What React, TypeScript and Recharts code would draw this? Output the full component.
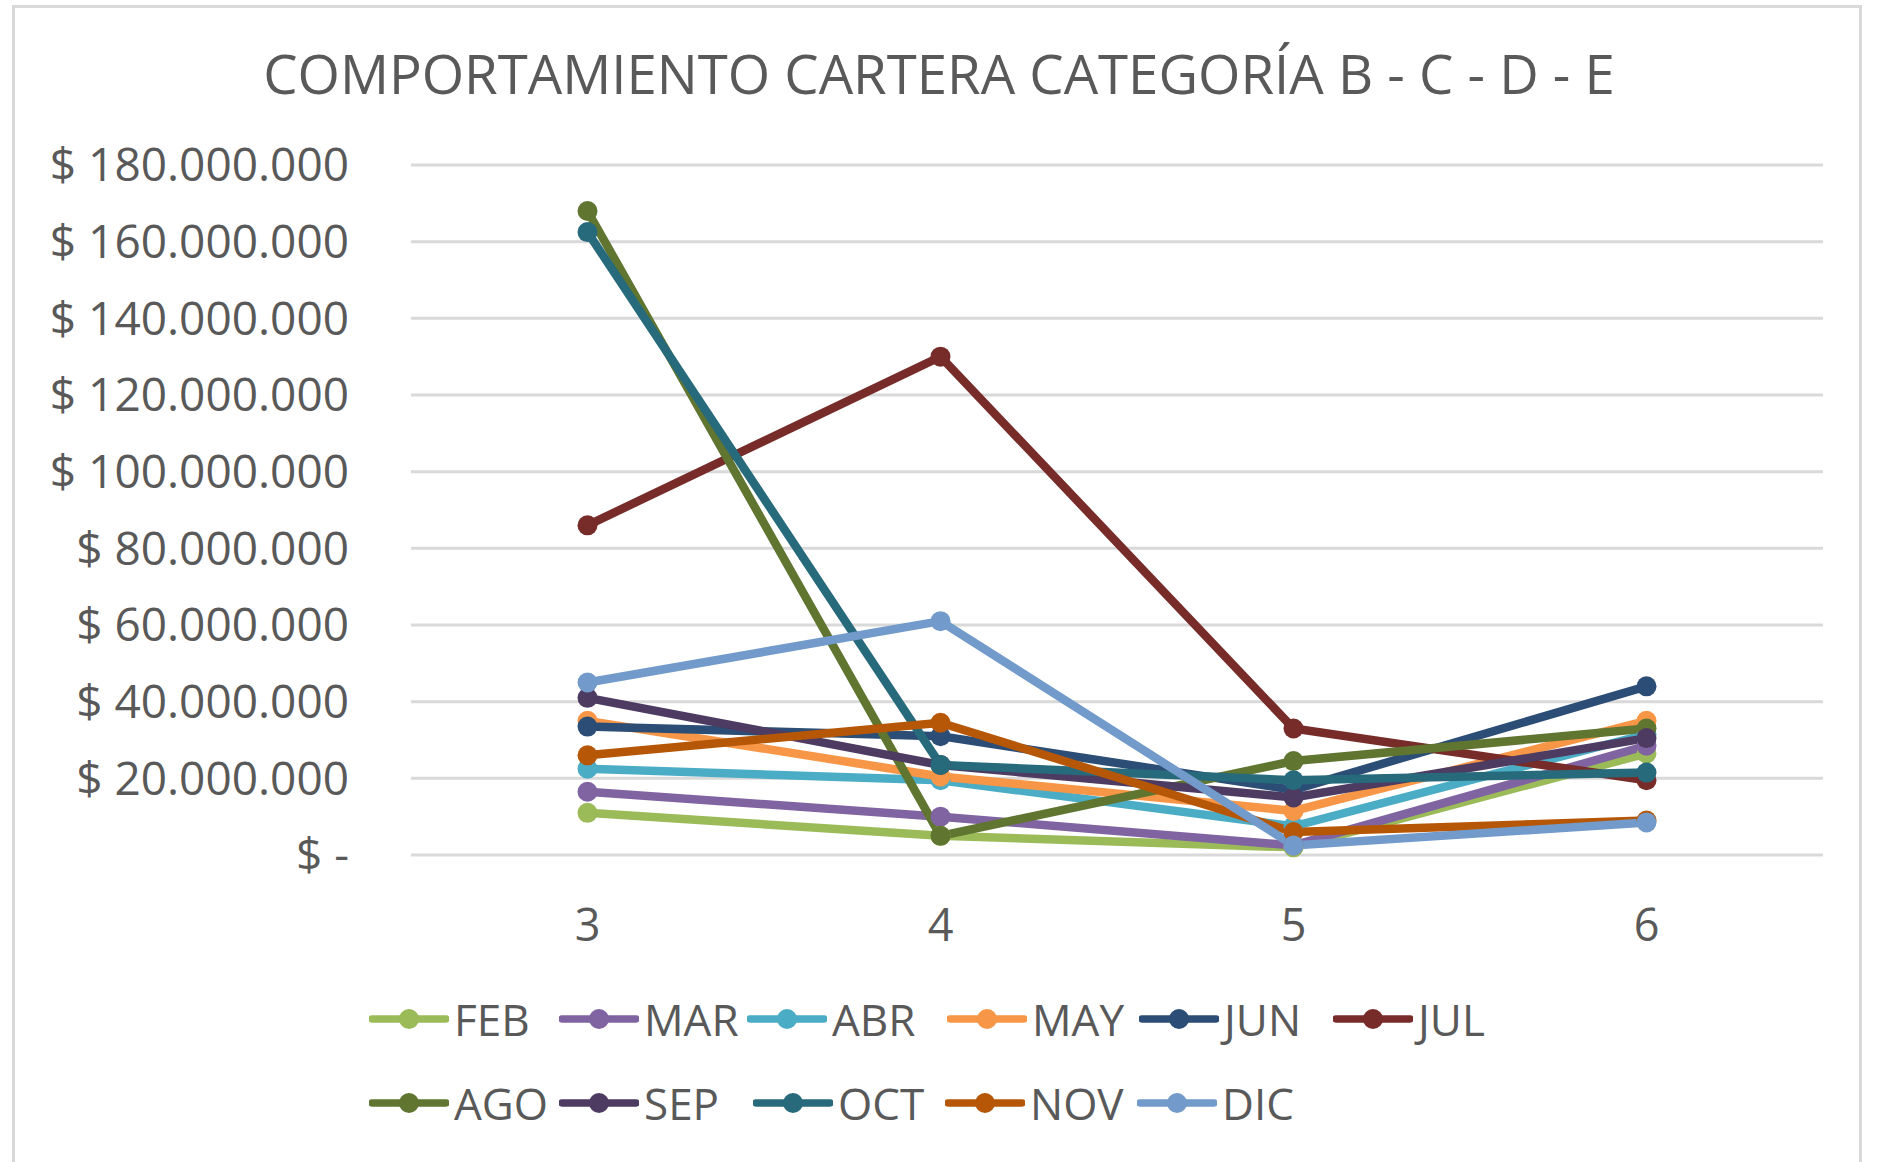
import React from "react";
import { LineChart, Line, XAxis, YAxis, CartesianGrid, Legend } from "recharts";

const categories = [3, 4, 5, 6];
const FEB = [11000000, 5000000, 2000000, 26500000];
const MAR = [16500000, 10000000, 2500000, 28500000];
const ABR = [22500000, 19500000, 7500000, 31500000];
const MAY = [35000000, 20500000, 11500000, 35000000];
const JUN = [33500000, 31000000, 17000000, 44000000];
const JUL = [86000000, 130000000, 33000000, 19500000];
const AGO = [168000000, 5000000, 24500000, 33000000];
const SEP = [41000000, 23500000, 15000000, 30500000];
const OCT = [162500000, 23500000, 19500000, 21500000];
const NOV = [26000000, 34500000, 6000000, 9000000];
const DIC = [45000000, 61000000, 2500000, 8500000];

const seriesNames = ["FEB", "MAR", "ABR", "MAY", "JUN", "JUL", "AGO", "SEP", "OCT", "NOV", "DIC"];
const seriesValues = [FEB, MAR, ABR, MAY, JUN, JUL, AGO, SEP, OCT, NOV, DIC];
const seriesColors = [
  "#9BBB59", "#8064A2", "#4BACC6", "#F79646", "#2C4D75", "#772C2A",
  "#5F7530", "#4D3B62", "#276A7C", "#B65708", "#729ACA",
];
const yTicks = [0, 20000000, 40000000, 60000000, 80000000, 100000000, 120000000, 140000000, 160000000, 180000000];
const title = "COMPORTAMIENTO CARTERA CATEGORÍA B - C - D - E";

const data = categories.map((c, i) => {
  const row: Record<string, number> = { x: c };
  seriesNames.forEach((n, k) => {
    row[n] = seriesValues[k][i];
  });
  return row;
});

const fmt = (v: number) =>
  v === 0 ? "$ -" : "$ " + String(v).replace(/\B(?=(\d{3})+(?!\d))/g, ".");

const FONT = "'Open Sans', sans-serif";
const TEXT = "#595959";

const legendRows = [seriesNames.slice(0, 6), seriesNames.slice(6)];
const legendColWidths = [[190, 188, 200, 192, 194, 190], [190, 194, 192, 192, 190]];

const renderLegend = () => (
  <div style={{ height: 175, position: "relative", fontFamily: FONT }}>
    {legendRows.map((row, r) => (
      <div
        key={r}
        style={{
          position: "absolute",
          top: 2 + r * 84,
          left: 358,
          height: 84,
          display: "flex",
          alignItems: "center",
        }}
      >
        {row.map((name, j) => {
          const color = seriesColors[seriesNames.indexOf(name)];
          return (
            <div key={name} style={{ width: legendColWidths[r][j], display: "flex", alignItems: "center" }}>
              <svg width={80} height={24}>
                <line x1={3} y1={12} x2={77} y2={12} stroke={color} strokeWidth={7.5} strokeLinecap="round" />
                <circle cx={40} cy={12} r={10} fill={color} />
              </svg>
              <span style={{ marginLeft: 5, fontSize: 44, color: TEXT, lineHeight: 1 }}>{name}</span>
            </div>
          );
        })}
      </div>
    ))}
  </div>
);

export default function App() {
  return (
    <div
      style={{
        position: "absolute",
        left: 0,
        top: 0,
        width: 1878,
        height: 1162,
        background: "#fff",
        fontFamily: FONT,
        overflow: "hidden",
      }}
    >
      <div
        style={{
          position: "absolute",
          left: 12,
          top: 5,
          width: 1850,
          height: 1160,
          border: "3px solid #D9D9D9",
          boxSizing: "border-box",
        }}
      />
      <div
        style={{
          position: "absolute",
          top: 46,
          left: 0,
          width: 1878,
          textAlign: "center",
          fontSize: 54.5,
          lineHeight: "54px",
          color: TEXT,
          zIndex: 2,
        }}
      >
        {title}
      </div>
      <div style={{ position: "absolute", left: 0, top: 0 }}>
        <LineChart
          width={1878}
          height={1162}
          data={data}
          margin={{ top: 165, right: 55, left: 11, bottom: 12 }}
        >
          <CartesianGrid vertical={false} stroke="#D9D9D9" strokeWidth={3} />
          <XAxis
            dataKey="x"
            type="number"
            domain={[2.5, 6.5]}
            ticks={categories}
            height={120}
            tickSize={0}
            tickMargin={54}
            axisLine={false}
            tickLine={false}
            tick={{ fill: TEXT, fontSize: 45, fontFamily: FONT }}
          />
          <YAxis
            type="number"
            domain={[0, 180000000]}
            ticks={yTicks}
            width={400}
            tickSize={0}
            tickMargin={62}
            axisLine={false}
            tickLine={false}
            tickFormatter={fmt}
            interval={0}
            tick={{ fill: TEXT, fontSize: 46, fontFamily: FONT }}
          />
          <Legend verticalAlign="bottom" content={renderLegend} />
          {seriesNames.map((name, k) => (
            <Line
              key={name}
              type="linear"
              dataKey={name}
              stroke={seriesColors[k]}
              strokeWidth={8.5}
              dot={{ r: 10, fill: seriesColors[k], stroke: seriesColors[k], strokeWidth: 0 }}
              activeDot={false}
              isAnimationActive={false}
            />
          ))}
        </LineChart>
      </div>
    </div>
  );
}
